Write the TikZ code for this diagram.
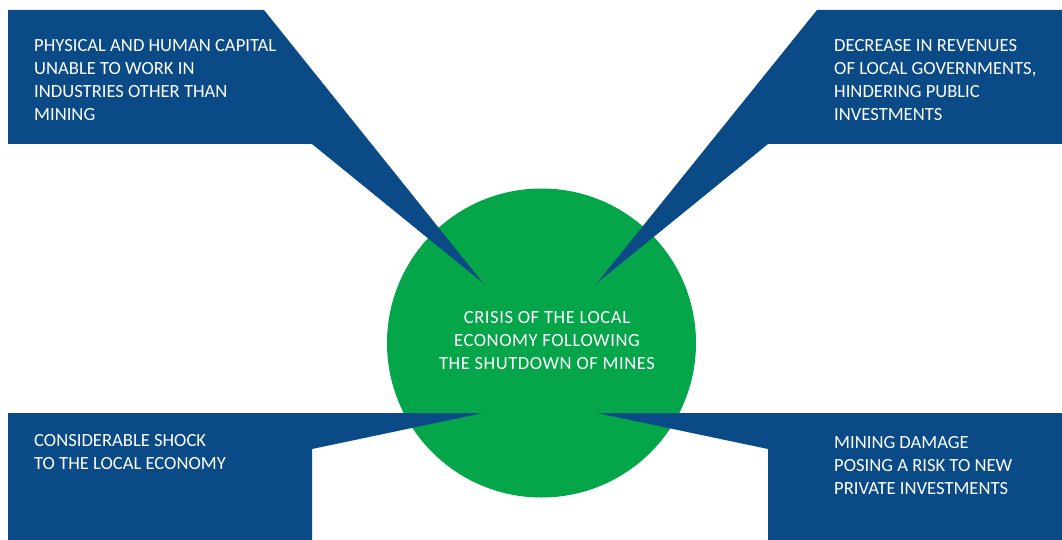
\documentclass[tikz,border=0pt]{standalone}
\usepackage{fontspec}
\setmainfont{Carlito}
\newfontfamily\hubfont[LetterSpace=3]{Carlito}
\definecolor{callblue}{RGB}{10,74,135}
\definecolor{hubgreen}{RGB}{5,166,74}
\tikzset{
  callout/.style={fill=callblue, draw=none},
  calltext/.style={text=white, inner sep=0pt, align=left, anchor=base west,
    font=\fontsize{18.6}{23}\selectfont},
  hubtext/.style={text=white, inner sep=0pt, align=center,
    font=\hubfont\fontsize{18.6}{23}\selectfont},
}
\begin{document}
\begin{tikzpicture}[x=1pt,y=-1pt]
\useasboundingbox (0,0) rectangle (1062,540);
% central circle
\node[circle, fill=hubgreen, minimum size=309pt, inner sep=0pt] (hub) at (541.5,343) {};
% tips
\coordinate (tl) at (483,283);
\coordinate (tr) at (597,283);
\coordinate (bl) at (483,413);
\coordinate (br) at (597,413);
% callouts
\fill[callout] (8,10) -- (264,10) -- (tl) -- (312,144) -- (8,144) -- cycle;
\fill[callout] (817,10) -- (1062,10) -- (1062,144) -- (768,144) -- (tr) -- cycle;
\fill[callout] (8,540) -- (8,413) -- (bl) -- (312,449) -- (312,540) -- cycle;
\fill[callout] (br) -- (1062,413) -- (1062,540) -- (768,540) -- (768,449) -- cycle;
% texts (anchored at the baseline of the last line)
\node[calltext] (t1) at (34,121) {PHYSICAL AND HUMAN CAPITAL\\UNABLE TO WORK IN\\INDUSTRIES OTHER THAN\\MINING};
\node[calltext] (t2) at (834,121) {DECREASE IN REVENUES\\OF LOCAL GOVERNMENTS,\\HINDERING PUBLIC\\INVESTMENTS};
\node[calltext] (t3) at (34,469) {CONSIDERABLE SHOCK\\TO THE LOCAL ECONOMY};
\node[calltext] (t4) at (834,494) {MINING DAMAGE\\POSING A RISK TO NEW\\PRIVATE INVESTMENTS};
\node[hubtext, anchor=base] (t0) at (547,369) {CRISIS OF THE LOCAL\\ECONOMY FOLLOWING\\THE SHUTDOWN OF MINES};
\end{tikzpicture}
\end{document}
